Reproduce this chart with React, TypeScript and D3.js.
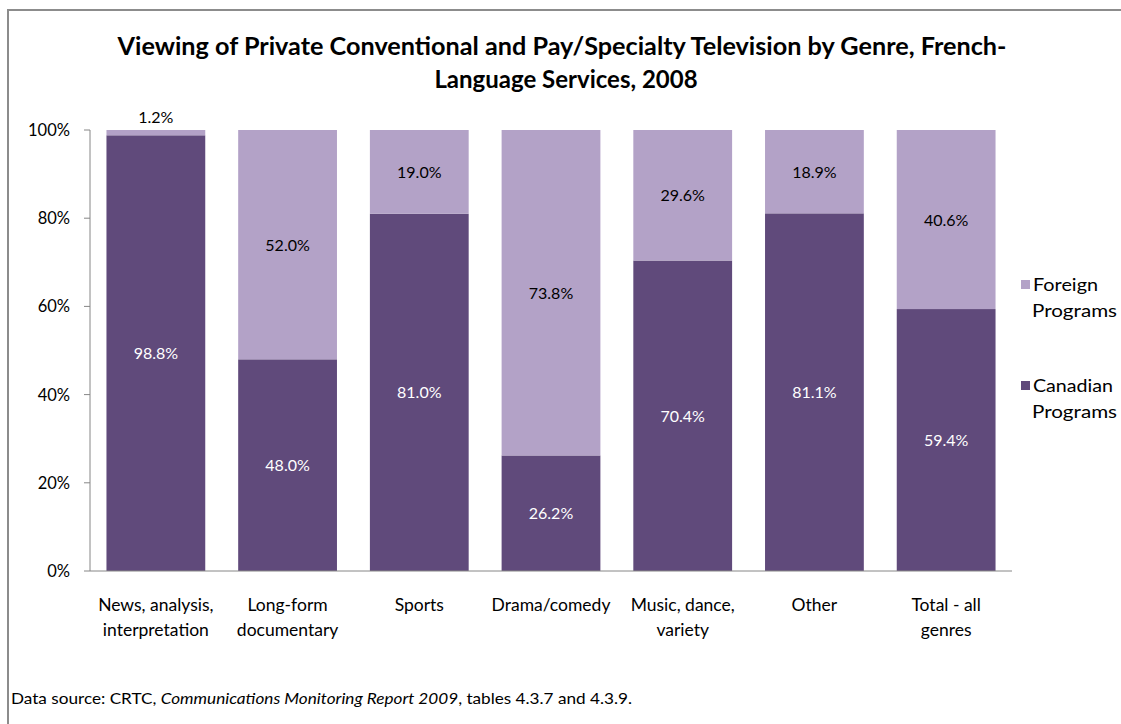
import React from "react";
import * as d3 from "d3";

const categories = [
  ["News, analysis,", "interpretation"],
  ["Long-form", "documentary"],
  ["Sports"],
  ["Drama/comedy"],
  ["Music, dance,", "variety"],
  ["Other"],
  ["Total - all", "genres"],
];
const canadian = [98.8, 48.0, 81.0, 26.2, 70.4, 81.1, 59.4];
const foreign = [1.2, 52.0, 19.0, 73.8, 29.6, 18.9, 40.6];
const yTicks = [0, 20, 40, 60, 80, 100];

const DARK = "#604A7B";
const LIGHT = "#B3A2C7";
const FONT = "Lato, 'Open Sans', sans-serif";

export default function App() {
  const W = 1121, H = 724;
  const x0 = 90, x1 = 1012, yTop = 130, yBot = 571;
  const x = d3.scaleBand<number>().domain(d3.range(categories.length)).range([x0, x1]).paddingInner(0.25).paddingOuter(0.125);
  const y = d3.scaleLinear().domain([0, 100]).range([yBot, yTop]);
  const fmt = (v: number) => v.toFixed(1) + "%";

  return (
    <svg width={W} height={H} style={{ position: "absolute", left: 0, top: 0 }} fontFamily={FONT}>
      <rect x={0} y={0} width={W} height={H} fill="#fff" />
      <path d={`M8,${H + 5} V10 H${W + 5}`} fill="none" stroke="#8c8c8c" strokeWidth={2} />
      <text x={562} y={55} textAnchor="middle" fontSize={24} fontWeight="bold" fill="#000" textLength={889} lengthAdjust="spacingAndGlyphs">
        Viewing of Private Conventional and Pay/Specialty Television by Genre, French-
      </text>
      <text x={566} y={88} textAnchor="middle" fontSize={24} fontWeight="bold" fill="#000">
        Language Services, 2008
      </text>

      {/* y axis */}
      <line x1={x0} x2={x0} y1={yTop} y2={yBot} stroke="#868686" />
      {yTicks.map((t) => (
        <g key={t}>
          <line x1={x0 - 6} x2={x0} y1={y(t)} y2={y(t)} stroke="#868686" />
          <text x={70} y={y(t) + 6} textAnchor="end" fontSize={16.5} fill="#000">{t}%</text>
        </g>
      ))}

      {/* bars */}
      {categories.map((c, i) => {
        const bx = x(i)!;
        const bw = x.bandwidth();
        const cx = bx + bw / 2;
        const c0 = y(0), c1 = y(canadian[i]);
        const f1 = y(canadian[i] + foreign[i]);
        const fSmall = foreign[i] < 5;
        return (
          <g key={i}>
            <rect x={bx} y={c1} width={bw} height={c0 - c1} fill={DARK} />
            <rect x={bx} y={f1} width={bw} height={c1 - f1} fill={LIGHT} />
            <text x={cx} y={(c0 + c1) / 2 + 6} textAnchor="middle" fontSize={16} fill="#fff">{fmt(canadian[i])}</text>
            <text x={cx} y={fSmall ? f1 - 7 : (c1 + f1) / 2 + 6} textAnchor="middle" fontSize={16} fill="#000">{fmt(foreign[i])}</text>
            {c.map((line, j) => (
              <text key={j} x={cx} y={611 + j * 25} textAnchor="middle" fontSize={17.5} fill="#000">{line}</text>
            ))}
          </g>
        );
      })}

      {/* x axis */}
      <line x1={x0} x2={x1} y1={yBot} y2={yBot} stroke="#868686" />

      {/* legend */}
      <rect x={1021} y={280} width={9} height={9} fill={LIGHT} />
      <text x={1033} y={291} fontSize={18} fill="#000" textLength={65} lengthAdjust="spacingAndGlyphs">Foreign</text>
      <text x={1032} y={317} fontSize={18} fill="#000" textLength={85} lengthAdjust="spacingAndGlyphs">Programs</text>
      <rect x={1021} y={381} width={9} height={9} fill={DARK} />
      <text x={1033} y={392} fontSize={18} fill="#000" textLength={80} lengthAdjust="spacingAndGlyphs">Canadian</text>
      <text x={1032} y={418} fontSize={18} fill="#000" textLength={85} lengthAdjust="spacingAndGlyphs">Programs</text>

      <text x={11} y={704} fontSize={15} fill="#000" textLength={621} lengthAdjust="spacingAndGlyphs">
        Data source: CRTC, <tspan fontStyle="italic">Communications Monitoring Report 2009</tspan>, tables 4.3.7 and 4.3.9.
      </text>
    </svg>
  );
}
